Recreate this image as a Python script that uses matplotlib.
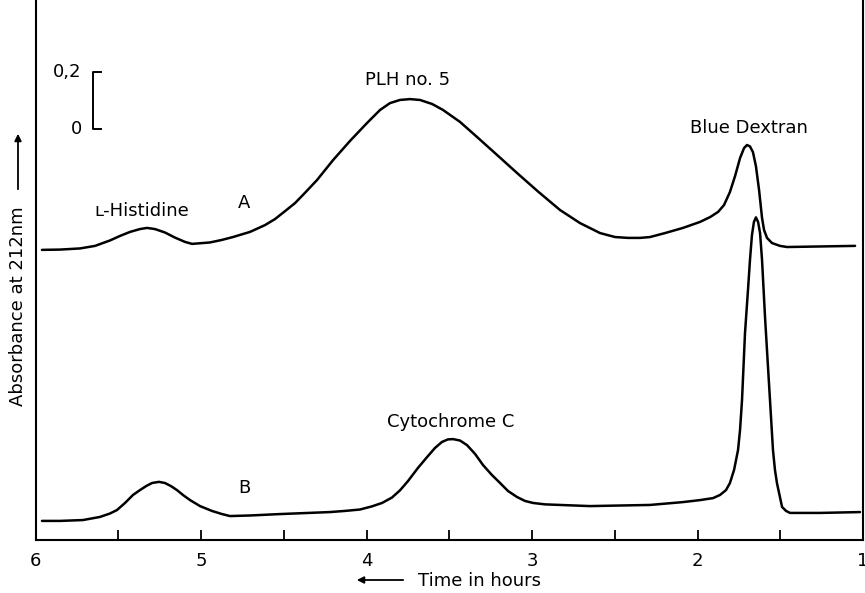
import matplotlib
matplotlib.use("Agg")
import matplotlib.pyplot as plt
from matplotlib.patches import FancyArrowPatch

# ---- data (time in hours, absorbance at 212 nm, offset units) ----
time_A = [5.961, 5.852, 5.731, 5.640, 5.550, 5.489, 5.429, 5.369, 5.326, 5.278,
          5.218, 5.157, 5.097, 5.054, 4.946, 4.873, 4.807, 4.704, 4.613, 4.553,
          4.492, 4.432, 4.372, 4.299, 4.202, 4.100, 3.997, 3.918, 3.858, 3.798,
          3.737, 3.677, 3.604, 3.538, 3.435, 3.332, 3.211, 3.091, 2.964, 2.831,
          2.710, 2.589, 2.498, 2.420, 2.347, 2.287, 2.196, 2.088, 1.985, 1.924,
          1.876, 1.840, 1.804, 1.773, 1.743, 1.719, 1.701, 1.683, 1.665, 1.647,
          1.628, 1.610, 1.598, 1.580, 1.550, 1.502, 1.459, 1.048]
abs_A = [1.018, 1.019, 1.023, 1.032, 1.051, 1.067, 1.081, 1.091, 1.095, 1.091,
         1.079, 1.061, 1.046, 1.039, 1.044, 1.053, 1.063, 1.081, 1.105, 1.126,
         1.154, 1.182, 1.218, 1.263, 1.333, 1.400, 1.463, 1.509, 1.533, 1.544,
         1.547, 1.544, 1.530, 1.509, 1.467, 1.414, 1.351, 1.288, 1.223, 1.158,
         1.112, 1.077, 1.063, 1.060, 1.060, 1.063, 1.077, 1.095, 1.116, 1.133,
         1.151, 1.175, 1.221, 1.277, 1.340, 1.375, 1.386, 1.381, 1.361, 1.312,
         1.228, 1.130, 1.088, 1.060, 1.042, 1.032, 1.028, 1.032]

time_B = [5.961, 5.852, 5.713, 5.610, 5.550, 5.508, 5.459, 5.411, 5.369, 5.332,
          5.296, 5.254, 5.218, 5.181, 5.145, 5.109, 5.066, 5.006, 4.934, 4.873,
          4.825, 4.704, 4.523, 4.221, 4.130, 4.039, 3.967, 3.906, 3.846, 3.798,
          3.749, 3.689, 3.634, 3.586, 3.544, 3.508, 3.477, 3.435, 3.393, 3.344,
          3.296, 3.242, 3.193, 3.145, 3.091, 3.042, 2.994, 2.921, 2.831, 2.650,
          2.468, 2.287, 2.088, 1.985, 1.906, 1.864, 1.828, 1.804, 1.779, 1.755,
          1.743, 1.731, 1.713, 1.695, 1.683, 1.671, 1.659, 1.647, 1.634, 1.622,
          1.610, 1.592, 1.574, 1.562, 1.544, 1.532, 1.520, 1.502, 1.489, 1.465,
          1.441, 1.260, 1.018]
abs_B = [0.067, 0.067, 0.070, 0.081, 0.093, 0.105, 0.130, 0.158, 0.175, 0.189,
         0.200, 0.204, 0.200, 0.189, 0.175, 0.158, 0.140, 0.119, 0.102, 0.091,
         0.084, 0.086, 0.091, 0.098, 0.102, 0.107, 0.118, 0.130, 0.149, 0.174,
         0.207, 0.253, 0.291, 0.323, 0.344, 0.353, 0.354, 0.349, 0.333, 0.302,
         0.263, 0.228, 0.200, 0.172, 0.151, 0.137, 0.130, 0.125, 0.123, 0.119,
         0.121, 0.123, 0.133, 0.140, 0.147, 0.158, 0.175, 0.200, 0.246, 0.316,
         0.386, 0.491, 0.726, 0.877, 0.982, 1.070, 1.116, 1.132, 1.116, 1.077,
         0.982, 0.782, 0.607, 0.491, 0.316, 0.246, 0.200, 0.151, 0.116, 0.102,
         0.095, 0.095, 0.098]

x_ticks = [6, 5, 4, 3, 2, 1]
x_tick_labels = ["6", "5", "4", "3", "2", "1"]
x_minor = [5.5, 4.5, 3.5, 2.5, 1.5]

peak_labels = ["ʟ-Histidine", "A", "PLH no. 5", "Blue Dextran", "Cytochrome C", "B"]
peak_label_x = [5.36, 4.74, 3.75, 1.69, 3.49, 4.74]
peak_label_y = [1.154, 1.182, 1.614, 1.446, 0.414, 0.182]

scale_bottom, scale_top = 1.442, 1.642
scale_labels = ["0", "0,2"]

# ---- figure ----
W, H = 865, 593
fig = plt.figure(figsize=(W / 100, H / 100), dpi=100)
left_px, right_px, bottom_px = 35.5, 863.0, 540.0
ax = fig.add_axes([left_px / W, (H - bottom_px) / H, (right_px - left_px) / W, bottom_px / H])

lw = 1.8
for tt, yy in [(time_A, abs_A), (time_B, abs_B)]:
    ax.plot(tt, yy, color="black", lw=lw, solid_joinstyle="round", solid_capstyle="round")

ax.set_xlim(6, 1)
ax.set_ylim(0, bottom_px / 285.0)

ax.set_xticks(x_ticks)
ax.set_xticklabels(x_tick_labels)
ax.set_xticks(x_minor, minor=True)
ax.tick_params(axis="x", which="both", direction="in", length=7, width=1.3, pad=9,
               labelsize=13)
ax.set_yticks([])

ax.spines["top"].set_visible(False)
for side in ["left", "bottom", "right"]:
    ax.spines[side].set_linewidth(1.5)

for txt, x, y in zip(peak_labels, peak_label_x, peak_label_y):
    ax.text(x, y, txt, ha="center", va="center", fontsize=13)

# scale bar
sb_x, sb_x2 = 5.653, 5.604
ax.plot([sb_x2, sb_x, sb_x, sb_x2], [scale_top, scale_top, scale_bottom, scale_bottom],
        color="black", lw=1.4)
ax.text(5.72, scale_bottom, scale_labels[0], ha="right", va="center", fontsize=13)
ax.text(5.72, scale_top, scale_labels[1], ha="right", va="center", fontsize=13)

# axis labels with arrows (figure pixel coords)
def fx(px):
    return px / W

def fy(py):
    return 1 - py / H

fig.text(fx(480), fy(581), "Time in hours", ha="center", va="center", fontsize=13)
fig.add_artist(FancyArrowPatch(
    (fx(406), fy(580)), (fx(354), fy(580)), transform=fig.transFigure,
    arrowstyle="-|>", mutation_scale=10, lw=1.3, color="black"))

fig.text(fx(18), fy(306), "Absorbance at 212nm", ha="center", va="center",
         rotation=90, fontsize=13)
fig.add_artist(FancyArrowPatch(
    (fx(18), fy(192)), (fx(18), fy(131)), transform=fig.transFigure,
    arrowstyle="-|>", mutation_scale=10, lw=1.3, color="black"))

fig.savefig("out.png", dpi=100)
